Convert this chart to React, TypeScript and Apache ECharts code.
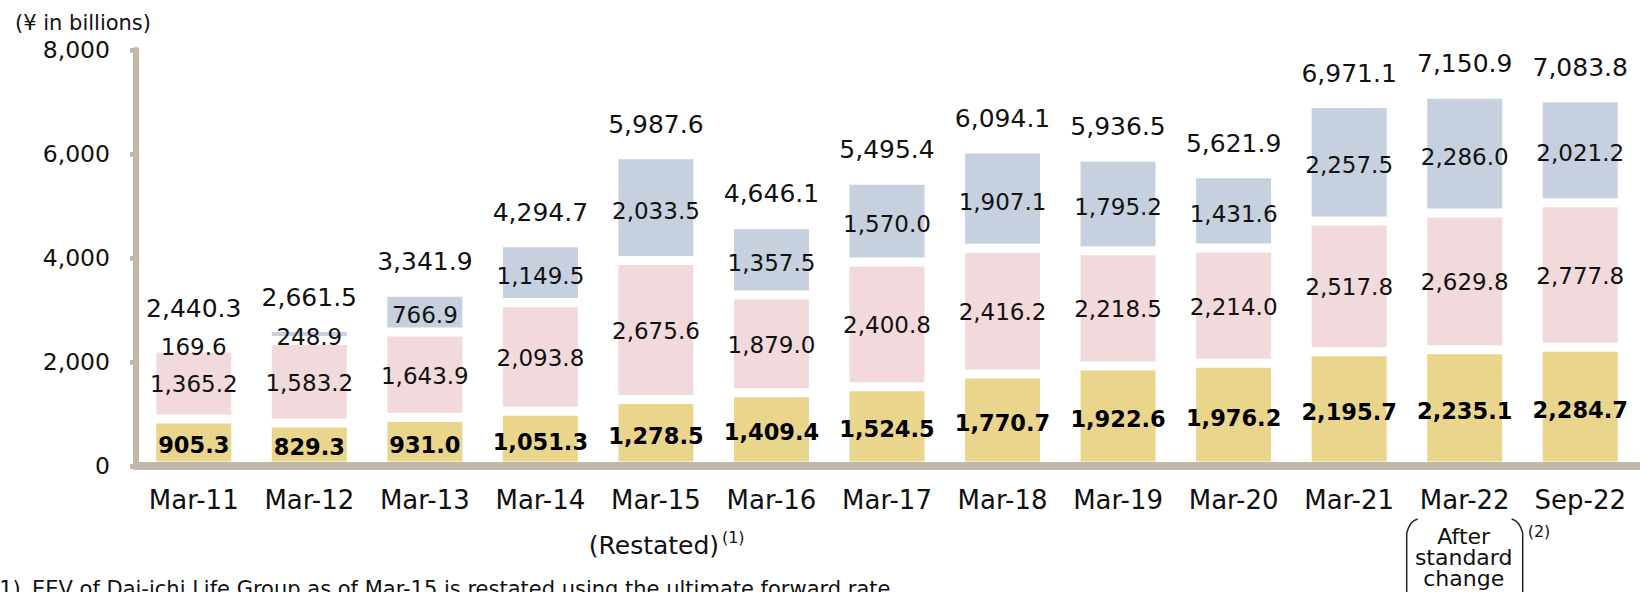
import React, { useEffect, useRef } from "react";
import * as echarts from "echarts";

const categories = ["Mar-11", "Mar-12", "Mar-13", "Mar-14", "Mar-15", "Mar-16", "Mar-17", "Mar-18", "Mar-19", "Mar-20", "Mar-21", "Mar-22", "Sep-22"];
const yellowValues = [905.3, 829.3, 931.0, 1051.3, 1278.5, 1409.4, 1524.5, 1770.7, 1922.6, 1976.2, 2195.7, 2235.1, 2284.7];
const pinkValues = [1365.2, 1583.2, 1643.9, 2093.8, 2675.6, 1879.0, 2400.8, 2416.2, 2218.5, 2214.0, 2517.8, 2629.8, 2777.8];
const blueValues = [169.6, 248.9, 766.9, 1149.5, 2033.5, 1357.5, 1570.0, 1907.1, 1795.2, 1431.6, 2257.5, 2286.0, 2021.2];
const totalValues = [2440.3, 2661.5, 3341.9, 4294.7, 5987.6, 4646.1, 5495.4, 6094.1, 5936.5, 5621.9, 6971.1, 7150.9, 7083.8];
const yTicks = { min: 0, max: 8000, interval: 2000 };

const FONT = "DejaVu Sans";
const AXIS_COLOR = "#C0B8A8";
const TEXT = "#111111";

const fmt = (v: number) =>
  v.toLocaleString("en-US", { minimumFractionDigits: 1, maximumFractionDigits: 1 });

export default function App() {
  const ref = useRef<HTMLDivElement>(null);
  useEffect(() => {
    document.body.style.margin = "0";
    const chart = echarts.init(ref.current!, undefined, { renderer: "svg" });
    const barCommon = {
      type: "bar" as const,
      stack: "eev",
      barWidth: 84,
      itemStyle: { borderColor: "#ffffff", borderWidth: 4.5 },
    };
    chart.setOption({
      animation: false,
      textStyle: { fontFamily: FONT },
      grid: { left: 136, right: 2, top: 50, bottom: 126, containLabel: false },
      xAxis: {
        type: "category",
        data: categories,
        axisLine: { show: true, lineStyle: { color: AXIS_COLOR, width: 8 } },
        axisTick: { show: false },
        axisLabel: { interval: 0, fontSize: 26, color: TEXT, margin: 21, fontFamily: FONT },
        z: 5,
      },
      yAxis: {
        type: "value",
        min: yTicks.min,
        max: yTicks.max,
        interval: yTicks.interval,
        splitLine: { show: false },
        axisLine: { show: true, lineStyle: { color: AXIS_COLOR, width: 6 } },
        axisTick: { show: true, length: 6, lineStyle: { color: AXIS_COLOR, width: 5 } },
        axisLabel: { fontSize: 23.5, color: TEXT, margin: 26, fontFamily: FONT },
      },
      series: [
        {
          ...barCommon,
          name: "yellow",
          data: yellowValues,
          itemStyle: { ...barCommon.itemStyle, color: "#EAD58C" },
          label: {
            show: true,
            position: "inside",
            offset: [0, 3],
            fontSize: 22.5,
            fontWeight: "bold",
            color: "#000",
            fontFamily: FONT,
            formatter: (p: any) => fmt(p.value),
          },
        },
        {
          ...barCommon,
          name: "pink",
          data: pinkValues,
          itemStyle: { ...barCommon.itemStyle, color: "#F2DADC" },
          label: {
            show: true,
            position: "inside",
            offset: [0, 1],
            fontSize: 23,
            color: TEXT,
            fontFamily: FONT,
            formatter: (p: any) => fmt(p.value),
          },
        },
        {
          ...barCommon,
          name: "blue",
          data: blueValues,
          itemStyle: { ...barCommon.itemStyle, color: "#C7D0DF" },
          label: {
            show: true,
            position: "inside",
            offset: [0, 3],
            fontSize: 23,
            color: TEXT,
            fontFamily: FONT,
            formatter: (p: any) => fmt(p.value),
          },
        },
        {
          type: "scatter",
          name: "total",
          data: totalValues,
          symbolSize: 0,
          itemStyle: { color: "#111111", opacity: 1 },
          label: {
            show: true,
            position: "top",
            distance: 18,
            fontSize: 25,
            color: "#111111",
            opacity: 1,
            fontFamily: FONT,
            formatter: (p: any) => fmt(p.value),
          },
          z: 10,
        },
      ],
    });

    const cx = (i: number) => chart.convertToPixel({ xAxisIndex: 0 }, i) as number;
    const c15 = cx(4);
    const c22 = cx(11);
    const bracketStyle = { stroke: "#222", lineWidth: 1.5, fill: "none" };
    chart.setOption({
      graphic: [
        {
          type: "text",
          x: 15,
          y: 23,
          style: { text: "(¥ in billions)", fontSize: 21, fontFamily: FONT, fill: TEXT, align: "left", verticalAlign: "middle" },
        },
        {
          type: "text",
          x: c15 - 2,
          y: 545,
          style: { text: "(Restated)", fontSize: 25, fontFamily: FONT, fill: TEXT, align: "center", verticalAlign: "middle" },
        },
        {
          type: "text",
          x: c15 + 66,
          y: 537,
          style: { text: "(1)", fontSize: 16, fontFamily: FONT, fill: TEXT, align: "left", verticalAlign: "middle" },
        },
        {
          type: "text",
          x: c22 - 1,
          y: 557,
          style: { text: "After\nstandard\nchange", fontSize: 22, lineHeight: 21, fontFamily: FONT, fill: TEXT, align: "center", verticalAlign: "middle" },
        },
        {
          type: "bezierCurve",
          shape: { x1: c22 - 47, y1: 519, x2: c22 - 58, y2: 533, cpx1: c22 - 55, cpy1: 521 },
          style: bracketStyle,
        },
        {
          type: "line",
          shape: { x1: c22 - 58, y1: 533, x2: c22 - 58, y2: 600 },
          style: bracketStyle,
        },
        {
          type: "bezierCurve",
          shape: { x1: c22 + 47, y1: 519, x2: c22 + 58, y2: 533, cpx1: c22 + 55, cpy1: 521 },
          style: bracketStyle,
        },
        {
          type: "line",
          shape: { x1: c22 + 58, y1: 533, x2: c22 + 58, y2: 600 },
          style: bracketStyle,
        },
        {
          type: "text",
          x: c22 + 63,
          y: 531,
          style: { text: "(2)", fontSize: 16, fontFamily: FONT, fill: TEXT, align: "left", verticalAlign: "middle" },
        },
        {
          type: "text",
          x: -9,
          y: 589,
          style: { text: "(1)", fontSize: 21, fontFamily: FONT, fill: TEXT, align: "left", verticalAlign: "middle" },
        },
        {
          type: "text",
          x: 32,
          y: 589,
          style: { text: "EEV of Dai-ichi Life Group as of Mar-15 is restated using the ultimate forward rate.", fontSize: 21, fontFamily: FONT, fill: TEXT, align: "left", verticalAlign: "middle" },
        },
      ],
    });
    return () => chart.dispose();
  }, []);
  return <div ref={ref} style={{ width: 1640, height: 592 }} />;
}
